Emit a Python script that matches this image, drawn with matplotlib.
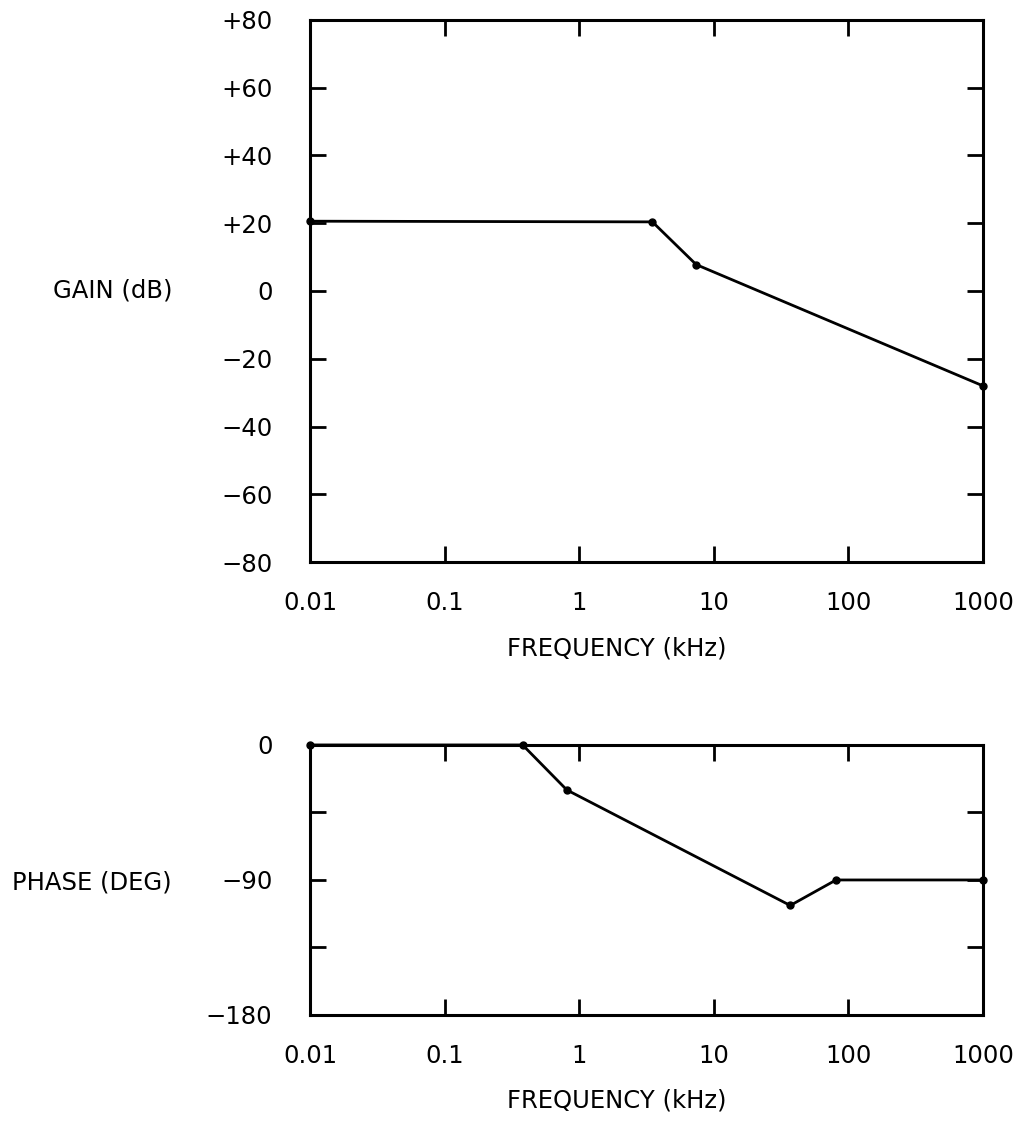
import matplotlib.pyplot as plt
from matplotlib.ticker import FixedLocator, FixedFormatter, NullLocator

# gain curve
gain_freq = [0.01, 3.5, 7.4, 1000]
gain_db = [20.6, 20.4, 7.8, -28]

# phase curve
phase_freq = [0.01, 0.38, 0.81, 37, 81, 1000]
phase_deg = [0, 0, -30, -107, -90, -90]

freq_ticks = [0.01, 0.1, 1, 10, 100, 1000]
freq_labels = ["0.01", "0.1", "1", "10", "100", "1000"]
gain_ticks = [80, 60, 40, 20, 0, -20, -40, -60, -80]
gain_labels = ["+80", "+60", "+40", "+20", "0", "\u221220", "\u221240", "\u221260", "\u221280"]
phase_ticks = [0, -45, -90, -135, -180]
phase_labels = ["0", "", "\u221290", "", "\u2212180"]

plt.rcParams["font.family"] = ["DejaVu Sans"]
FS = 17.5

fig = plt.figure(figsize=(10.22, 11.27), dpi=100)
ax1 = fig.add_axes([0.3033, 0.5013, 0.6585, 0.481])
ax2 = fig.add_axes([0.3033, 0.0994, 0.6585, 0.2396])


def style(ax, yticks, ylabels, ylim, ylabel, ylabel_y, xlabel_y):
    ax.set_xscale("log")
    ax.set_xlim(0.01, 1000)
    ax.set_ylim(*ylim)
    ax.xaxis.set_major_locator(FixedLocator(freq_ticks))
    ax.xaxis.set_major_formatter(FixedFormatter(freq_labels))
    ax.xaxis.set_minor_locator(NullLocator())
    ax.yaxis.set_major_locator(FixedLocator(yticks))
    ax.yaxis.set_major_formatter(FixedFormatter(ylabels))
    ax.tick_params(direction="in", length=11.5, width=2, top=True, right=True,
                   labelsize=FS)
    ax.tick_params(axis="y", pad=27)
    ax.tick_params(axis="x", pad=21)
    for s in ax.spines.values():
        s.set_linewidth(2.2)
    ax.text(0.456, xlabel_y, "FREQUENCY (kHz)", transform=ax.transAxes,
            ha="center", va="center", fontsize=FS)
    ax.text(-0.205, ylabel_y, ylabel, transform=ax.transAxes,
            ha="right", va="center", fontsize=FS)


style(ax1, gain_ticks, gain_labels, (-80, 80), "GAIN (dB)", 0.5, -0.159)
ax1.plot(gain_freq, gain_db, color="black", lw=2, marker="o", ms=5,
         clip_on=False, zorder=5)

style(ax2, phase_ticks, phase_labels, (-180, 0), "PHASE (DEG)", 0.489, -0.3185)
ax2.plot(phase_freq, phase_deg, color="black", lw=2, marker="o", ms=5,
         clip_on=False, zorder=5)

fig.savefig("out.png", dpi=100)
